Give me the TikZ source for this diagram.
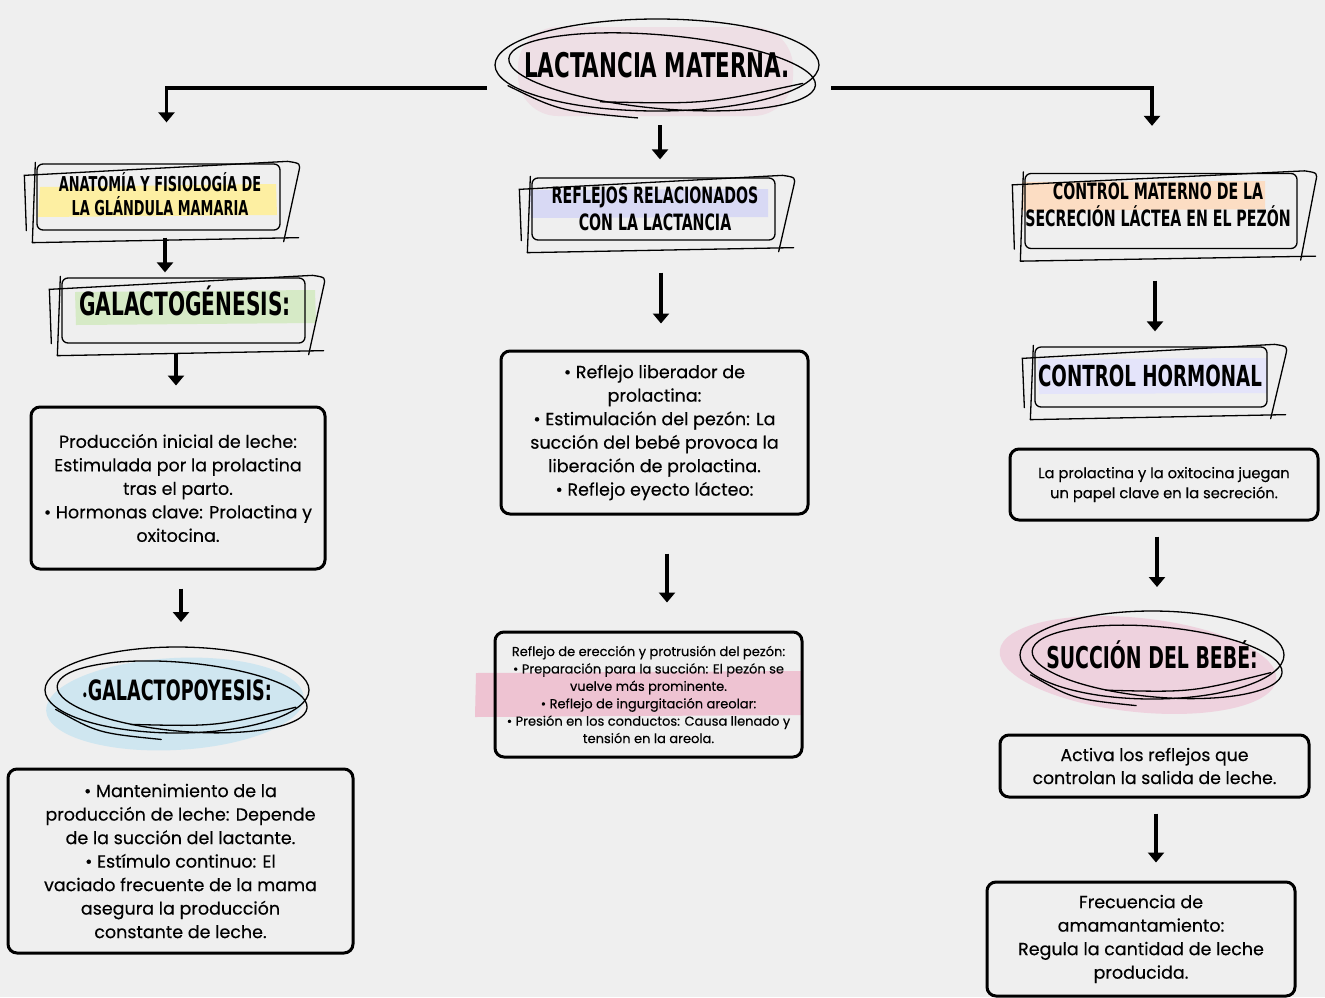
\documentclass[tikz,border=0pt]{standalone}
\usepackage{fontspec}
\setmainfont{Poppins}[FakeBold=0.35]
\newfontfamily\handfont[FakeStretch=0.7]{DejaVu Sans Condensed}
\usetikzlibrary{arrows.meta,calc}

\definecolor{bgc}{HTML}{EFEFEF}
\definecolor{titleblob}{HTML}{EEDFE5}
\definecolor{hlyellow}{HTML}{FDEFA2}
\definecolor{hlgreen}{HTML}{D6EAC6}
\definecolor{hllav}{HTML}{D8D9F4}
\definecolor{hlpeach}{HTML}{FCDDC3}
\definecolor{hllav2}{HTML}{E4E4FA}
\definecolor{hlpink}{HTML}{EEC3D2}
\definecolor{blobblue}{HTML}{CFE6F0}
\definecolor{blobpink}{HTML}{EED2DE}

\tikzset{
  skline/.style={black, line width=1.3pt, line cap=round},
  roughbox/.style={draw, black, line width=1.3pt, rounded corners=6pt, inner sep=0pt},
  txtbox/.style={draw, black, line width=3pt, rounded corners=9pt, align=center, inner sep=0pt},
  arr/.style={line width=3.5pt, -{Triangle[width=16pt,length=10pt]}},
  hand/.style={align=center, inner sep=0pt}
}

% rough double frame round a named frame node
\newcommand{\roughframe}[1]{%
\draw[skline] ($(#1.south west)+(-10,0)$) -- ($(#1.north west)+(-12,12)$) -- ($(#1.north east)+(7,-2)$) .. controls ($(#1.north east)+(20,0)$) .. ($(#1.north east)+(18,9)$) -- ($(#1.south east)+(3,11)$);
\draw[skline] ($(#1.south west)+(-4,12)$) -- ($(#1.south east)+(18,7)$);
\draw[skline] ($(#1.north west)+(-1,-1)$) -- ($(#1.south west)+(-4,12)$);
}

% scribbled loop round a named text node
\newcommand{\scribble}[3]{%
\draw[skline] (#1.center) ellipse [x radius=#2, y radius=#3];
\draw[skline, shift={(#1.center)}, rotate=-5, xscale=0.95, yscale=0.8] (6,8) ellipse [x radius=#2, y radius=#3];
\draw[skline] ($(#1.center)+(-0.35*#2,0.8*#3)$) .. controls ($(#1.center)+(0.3*#2,0.85*#3)$) .. ($(#1.center)+(0.9*#2,0.4*#3)$);
\draw[skline] ($(#1.center)+(-0.12*#2,1.15*#3)$) .. controls ($(#1.center)+(-0.6*#2,1.0*#3)$) .. ($(#1.center)+(-0.92*#2,0.45*#3)$);
}

\begin{document}
\begin{tikzpicture}[x=1pt,y=-1pt]
\fill[bgc] (0,0) rectangle (1325,997);
\useasboundingbox (0,0) rectangle (1325,997);

% blobs and highlights
\fill[titleblob, rounded corners=40pt] (518,27) rectangle (793,116);
\fill[hlyellow] (40,187) -- (276,184) -- (277,215) -- (38,217) -- cycle;
\fill[hlgreen] (75,292) -- (315,290) -- (316,323) -- (76,325) -- cycle;
\fill[hllav] (530,190) -- (768,189) -- (768,217) -- (531,218) -- cycle;
\fill[hlpeach] (1022,182) -- (1265,181) -- (1265,209) -- (1023,211) -- cycle;
\fill[hllav2] (1038,359) -- (1267,358) -- (1267,393) -- (1039,394) -- cycle;
\fill[hlpink] (476,673) -- (802,671) -- (803,715) -- (475,717) -- cycle;
\fill[blobblue, rotate around={3:(175,704)}] (175,704) ellipse [x radius=129, y radius=46];
\fill[blobpink, rotate around={-6:(1138,665)}] (1138,665) ellipse [x radius=139, y radius=47];

% title
\node[hand, font=\handfont\bfseries\fontsize{34}{34}\selectfont] (title) at (657,65) {LACTANCIA MATERNA.};
\scribble{title}{162}{46}

% left column
\node[roughbox, minimum width=243, minimum height=66] (anatF) at (158.5,197) {};
\roughframe{anatF}
\node[hand, font=\handfont\bfseries\fontsize{20.5}{24}\selectfont] (anatT) at (160,194) {ANATOMÍA Y FISIOLOGÍA DE\\LA GLÁNDULA MAMARIA};

\node[roughbox, minimum width=243, minimum height=65] (galF) at (183.5,310.5) {};
\roughframe{galF}
\node[hand, font=\handfont\bfseries\fontsize{32}{32}\selectfont] (galT) at (185,301) {GALACTOGÉNESIS:};

\node[txtbox, minimum width=294, minimum height=162, font=\fontsize{17.5}{23.5}\selectfont] (prodBox) at (178,488)
  {Producción inicial de leche:\\Estimulada por la prolactina\\tras el parto.\\• Hormonas clave: Prolactina y\\oxitocina.};

\node[hand, font=\handfont\bfseries\fontsize{28}{28}\selectfont] (galpT) at (177,690) {{\fontsize{14}{14}\selectfont•}GALACTOPOYESIS:};
\scribble{galpT}{132}{43}

\node[txtbox, minimum width=345, minimum height=184, font=\fontsize{17.5}{23.5}\selectfont] (mantBox) at (180.5,861)
  {• Mantenimiento de la\\producción de leche: Depende\\de la succión del lactante.\\• Estímulo continuo: El\\vaciado frecuente de la mama\\asegura la producción\\constante de leche.};

% middle column
\node[roughbox, minimum width=243, minimum height=62] (reflF) at (653.5,209) {};
\roughframe{reflF}
\node[hand, font=\handfont\bfseries\fontsize{22.5}{27}\selectfont] (reflT) at (655,209) {REFLEJOS RELACIONADOS\\CON LA LACTANCIA};

\node[txtbox, minimum width=307, minimum height=163, font=\fontsize{17.5}{23.5}\selectfont] (prolBox) at (654.5,432.5)
  {• Reflejo liberador de\\prolactina:\\• Estimulación del pezón: La\\succión del bebé provoca la\\liberación de prolactina.\\• Reflejo eyecto lácteo:};

\node[txtbox, minimum width=307, minimum height=125, font=\fontsize{13}{17.4}\selectfont] (ereccBox) at (648.5,694.5)
  {Reflejo de erección y protrusión del pezón:\\• Preparación para la succión: El pezón se\\vuelve más prominente.\\• Reflejo de ingurgitación areolar:\\• Presión en los conductos: Causa llenado y\\tensión en la areola.};

% right column
\node[roughbox, minimum width=272, minimum height=75] (ctrlF) at (1161,211) {};
\roughframe{ctrlF}
\node[hand, font=\handfont\bfseries\fontsize{22.5}{27}\selectfont] (ctrlT) at (1158,205) {CONTROL MATERNO DE LA\\SECRECIÓN LÁCTEA EN EL PEZÓN};

\node[roughbox, minimum width=232, minimum height=60] (hormF) at (1151,377) {};
\roughframe{hormF}
\node[hand, font=\handfont\bfseries\fontsize{29}{29}\selectfont] (hormT) at (1150,376) {CONTROL HORMONAL};

\node[txtbox, minimum width=308, minimum height=71, font=\fontsize{14.7}{20}\selectfont] (papelBox) at (1164,484.5)
  {La prolactina y la oxitocina juegan\\un papel clave en la secreción.};

\node[hand, font=\handfont\bfseries\fontsize{30}{30}\selectfont] (succT) at (1152,655) {SUCCIÓN DEL BEBÉ:};
\scribble{succT}{132}{44}

\node[txtbox, minimum width=309, minimum height=62, font=\fontsize{17.3}{23}\selectfont] (activaBox) at (1154.5,766)
  {Activa los reflejos que\\controlan la salida de leche.};

\node[txtbox, minimum width=308, minimum height=114, font=\fontsize{17.5}{23.5}\selectfont] (frecBox) at (1141,939)
  {Frecuencia de\\amamantamiento:\\Regula la cantidad de leche\\producida.};

% connectors
\draw[arr] ($(title.center)+(-170,23)$) -| ($(anatF.north)+(8,-41)$);
\draw[arr] ($(title.center)+(174,23)$) -| ($(ctrlF.north)+(-9,-47)$);
\draw[arr] ($(title.center)+(3,60)$) -- ($(reflF.north)+(6.5,-18)$);
\draw[arr] ($(anatF.south)+(6.5,7)$) -- ($(galF.north)+(-18.5,-5)$);
\draw[arr] ($(galF.south)+(-7.5,9)$) -- ($(prodBox.north)+(-2,-20)$);
\draw[arr] ($(prodBox.south)+(3,18)$) -- ($(galpT.center)+(4,-68)$);
\draw[arr] ($(reflF.south)+(7.5,32)$) -- ($(prolBox.north)+(6.5,-26)$);
\draw[arr] ($(prolBox.south)+(12.5,38)$) -- ($(ereccBox.north)+(18.5,-28)$);
\draw[arr] ($(ctrlF.south)+(-6,31.5)$) -- ($(hormF.north)+(4,-15)$);
\draw[arr] ($(papelBox.south)+(-7,15)$) -- ($(succT.center)+(5,-68)$);
\draw[arr] ($(activaBox.south)+(1.5,15)$) -- ($(frecBox.north)+(15,-18)$);
\end{tikzpicture}
\end{document}
